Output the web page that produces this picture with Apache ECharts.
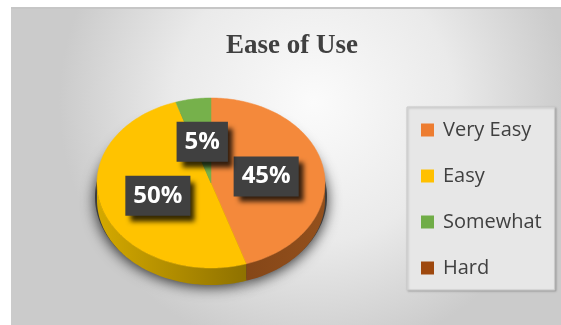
<!DOCTYPE html>
<html>
<head>
<meta charset="utf-8">
<script src="https://cdn.jsdelivr.net/npm/echarts@6/dist/echarts.min.js"></script>
<style>
html,body{margin:0;padding:0;background:#fff;}
#chart{width:561px;height:325px;}
</style>
</head>
<body>
<div id="chart"></div>
<script>
const categories = ['Very Easy', 'Easy', 'Somewhat', 'Hard'];
const values = [45, 50, 5, 0];
const titleText = 'Ease of Use';

const legendColors = ['#ED7D31', '#FFC000', '#70AD47', '#9E480E'];
const topColors = ['#F4893B', '#FFC300', '#76B14B', '#A34B10'];
const sideStops = [
  ['#6b3410', '#93501c'],
  ['#d4a900', '#6a5400'],
  ['#4e7a30', '#3a5a22'],
  ['#7a360a', '#5a2806']
];

const total = values.reduce((a, b) => a + b, 0);
const CX = 211, CY = 183, RX = 114, RY = 85, DEPTH = 17;

function pt(a, dz, g) {
  g = g || 0;
  return [CX + (RX + g) * Math.sin(a), CY - (RY + g) * Math.cos(a) + dz];
}
function arc(a1, a2, dz, g) {
  const n = Math.max(2, Math.ceil(Math.abs(a2 - a1) / (Math.PI / 180)));
  const out = [];
  for (let k = 0; k <= n; k++) out.push(pt(a1 + (a2 - a1) * k / n, dz, g));
  return out;
}

function renderItem(params, api) {
  const start = api.value(0), val = api.value(1), idx = api.value(2);
  if (!val) return { type: 'group', children: [] };
  const a1 = start / total * Math.PI * 2;
  const a2 = (start + val) / total * Math.PI * 2;
  const children = [];
  // shadow base
  children.push({
    type: 'polygon', z2: 0,
    shape: { points: [[CX, CY + DEPTH]].concat(arc(a1, a2, DEPTH - 3, 2)) },
    style: { fill: 'rgba(60,60,60,1)', shadowBlur: 14, shadowColor: 'rgba(0,0,0,0.8)', shadowOffsetY: 3 }
  });
  // side wall
  const lo = Math.max(a1, Math.PI / 2), hi = Math.min(a2, Math.PI * 1.5);
  if (lo < hi) {
    const pts = arc(lo, hi, 0).concat(arc(hi, lo, DEPTH));
    children.push({
      type: 'polygon', z2: 1,
      shape: { points: pts },
      style: {
        fill: {
          type: 'linear', x: CX - RX, y: 0, x2: CX + RX, y2: 0, global: true,
          colorStops: [{ offset: 0, color: sideStops[idx][0] }, { offset: 1, color: sideStops[idx][1] }]
        },
        stroke: null
      }
    });
  }
  // top face
  children.push({
    type: 'polygon', z2: 2,
    shape: { points: [[CX, CY]].concat(arc(a1, a2, 0)) },
    style: { fill: topColors[idx], stroke: topColors[idx], lineWidth: 0.5 }
  });
  // label
  const m = (a1 + a2) / 2;
  const lp = [CX + 0.49 * RX * Math.sin(m), CY - 0.49 * RY * Math.cos(m)];
  children.push({
    type: 'text', z2: 5,
    x: lp[0], y: lp[1],
    style: {
      text: Math.round(val / total * 100) + '%',
      align: 'center', verticalAlign: 'middle',
      fill: '#ffffff',
      font: 'bold 24px "Open Sans"',
      lineHeight: 28,
      backgroundColor: '#404040',
      padding: [6, 8, 6, 8],
      shadowColor: 'rgba(0,0,0,0.8)', shadowBlur: 5, shadowOffsetX: 5, shadowOffsetY: 6
    }
  });
  return { type: 'group', children: children };
}

let cum = 0;
const series = categories.map((name, i) => {
  const s = cum; cum += values[i];
  return {
    type: 'custom', name: name, coordinateSystem: 'none',
    itemStyle: { color: legendColors[i] },
    data: [[s, values[i], i]],
    renderItem: renderItem,
    silent: true
  };
});

const chart = echarts.init(document.getElementById('chart'), null, { renderer: 'canvas' });
chart.setOption({
  animation: false,
  backgroundColor: '#ffffff',
  graphic: [
    {
      type: 'rect', z: -10, silent: true,
      shape: { x: 11, y: 7, width: 550, height: 318 },
      style: {
        fill: {
          type: 'radial', x: 0.55, y: 0.3, r: 0.8,
          colorStops: [{ offset: 0, color: '#fbfbfb' }, { offset: 0.55, color: '#eaeaea' }, { offset: 1, color: '#cbcbcb' }]
        }
      }
    },
    {
      type: 'rect', z: -9, silent: true,
      shape: { x: 11, y: 7, width: 550, height: 2 },
      style: { fill: '#c6c6c6' }
    }
  ],
  title: {
    text: titleText,
    left: 226, top: 33, padding: 0,
    textStyle: { fontFamily: 'Liberation Serif', fontWeight: 'bold', fontSize: 27, color: '#404040' }
  },
  legend: {
    orient: 'vertical',
    left: 407, top: 107,
    data: categories,
    icon: 'rect',
    itemWidth: 13, itemHeight: 13,
    itemGap: 22,
    padding: [11, 13, 10, 14],
    selectedMode: false,
    backgroundColor: '#e7e7e7',
    borderColor: '#c9c9c9',
    borderWidth: 1,
    shadowColor: 'rgba(0,0,0,0.2)', shadowBlur: 2, shadowOffsetX: 1, shadowOffsetY: 1,
    textStyle: { fontFamily: 'Open Sans', fontSize: 20, color: '#404040', lineHeight: 24, padding: [0, 0, 0, 4] }
  },
  series: series
});
</script>
</body>
</html>
